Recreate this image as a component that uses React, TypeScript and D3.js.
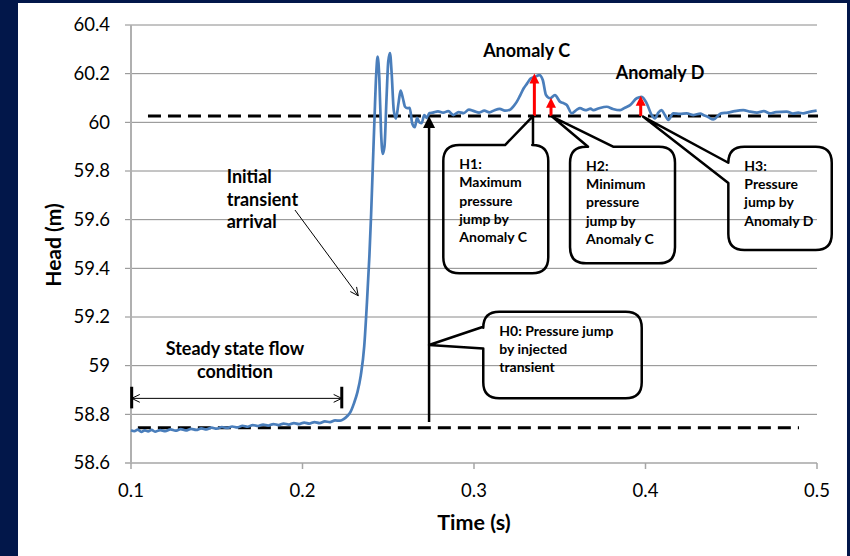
import * as d3 from 'd3';

// measured head trace (time in s, head in m)
const times = [
  0.100, 0.102, 0.104, 0.106, 0.108, 0.110, 0.112, 0.114, 0.117, 0.120,
  0.123, 0.126, 0.129, 0.132, 0.135, 0.138, 0.141, 0.144, 0.147, 0.150,
  0.153, 0.156, 0.159, 0.162, 0.165, 0.168, 0.171, 0.174, 0.177, 0.180,
  0.183, 0.186, 0.189, 0.192, 0.195, 0.198, 0.201, 0.204, 0.207, 0.210,
  0.213, 0.216, 0.219, 0.222, 0.224, 0.226, 0.228, 0.230, 0.232, 0.234,
  0.236, 0.2375, 0.239, 0.240, 0.241, 0.242, 0.243, 0.2438, 0.2448, 0.2458,
  0.2468, 0.2478, 0.2490, 0.2500, 0.2510, 0.2520, 0.2532, 0.2545, 0.2560, 0.2572,
  0.2585, 0.2598, 0.2612, 0.2625, 0.2640, 0.2655, 0.2668, 0.2682, 0.2695, 0.2710,
  0.2725, 0.2740, 0.276, 0.279, 0.282, 0.285, 0.288, 0.291, 0.294, 0.297,
  0.300, 0.303, 0.306, 0.309, 0.312, 0.315, 0.318, 0.321, 0.323, 0.325,
  0.327, 0.329, 0.331, 0.333, 0.3356, 0.3381, 0.3401, 0.3420, 0.3443, 0.3472,
  0.3501, 0.3525, 0.3541, 0.3570, 0.360, 0.3618, 0.365, 0.368, 0.3696, 0.373,
  0.3774, 0.381, 0.3852, 0.388, 0.3910, 0.3949, 0.3978, 0.4007, 0.4036, 0.4055,
  0.4075, 0.4094, 0.4113, 0.4133, 0.4162, 0.420, 0.424, 0.428, 0.432, 0.4337,
  0.4365, 0.4395, 0.4441, 0.448, 0.452, 0.457, 0.461, 0.465, 0.469, 0.4726,
  0.476, 0.4823, 0.486, 0.489, 0.4920, 0.495, 0.4998,
];
const heads = [
  58.735, 58.731, 58.737, 58.728, 58.734, 58.730, 58.736, 58.729, 58.735, 58.731,
  58.738, 58.733, 58.739, 58.734, 58.740, 58.736, 58.742, 58.738, 58.745, 58.741,
  58.748, 58.744, 58.750, 58.746, 58.753, 58.749, 58.756, 58.752, 58.758, 58.754,
  58.760, 58.756, 58.762, 58.758, 58.764, 58.760, 58.766, 58.762, 58.768, 58.764,
  58.771, 58.768, 58.775, 58.774, 58.780, 58.792, 58.810, 58.845, 58.890, 58.960,
  59.080, 59.250, 59.450, 59.620, 59.820, 60.020, 60.200, 60.270, 60.180, 59.960,
  59.870, 59.900, 60.100, 60.250, 60.285, 60.200, 60.050, 60.015, 60.080, 60.130,
  60.100, 60.064, 60.058, 60.060, 59.995, 59.980, 60.018, 60.000, 59.997, 60.030,
  60.018, 60.038, 60.040, 60.045, 60.040, 60.046, 60.030, 60.042, 60.038, 60.052,
  60.046, 60.040, 60.048, 60.041, 60.050, 60.055, 60.048, 60.052, 60.066, 60.085,
  60.112, 60.140, 60.160, 60.180, 60.187, 60.194, 60.174, 60.112, 60.099, 60.112,
  60.085, 60.078, 60.071, 60.037, 60.052, 60.058, 60.050, 60.056, 60.050, 60.058,
  60.064, 60.055, 60.050, 60.060, 60.071, 60.099, 60.105, 60.078, 60.030, 60.016,
  60.040, 60.050, 60.030, 60.010, 60.037, 60.035, 60.037, 60.030, 60.036, 60.030,
  60.022, 60.012, 60.037, 60.040, 60.046, 60.050, 60.044, 60.040, 60.046, 60.037,
  60.042, 60.044, 60.036, 60.040, 60.037, 60.042, 60.048,
];

const xTicks = [0.1, 0.2, 0.3, 0.4, 0.5];
const yTicks = [58.6, 58.8, 59, 59.2, 59.4, 59.6, 59.8, 60, 60.2, 60.4];

// reference levels
const steadyHead = 58.745;
const settledHead = 60.026;

// pressure jump arrows (time, top of arrow)
const jumpTimes = [0.3352, 0.3449, 0.3972];
const jumpTops = [60.201, 60.101, 60.109];

const injectTime = 0.2738;
const injectBase = 58.769;

type Callout = {
  lines: string[];
  t0: number; t1: number; h0: number; h1: number;
  side: 'top' | 'left';
  a: number; b: number;
  tip: [number, number];
};

const callouts: Callout[] = [
  { lines: ['H0: Pressure jump', 'by injected', 'transient'],
    t0: 0.3054, t1: 0.3978, h0: 59.2215, h1: 58.8656, side: 'left', a: 59.16, b: 59.071, tip: [0.2738, 59.0847] },
  { lines: ['H1:', 'Maximum', 'pressure', 'jump by', 'Anomaly C'],
    t0: 0.2821, t1: 0.3433, h0: 59.9067, h1: 59.3794, side: 'top', a: 0.3181, b: 0.3344, tip: [0.3344, 60.0259] },
  { lines: ['H2:', 'Minimum', 'pressure', 'jump by', 'Anomaly C'],
    t0: 0.356, t1: 0.4172, h0: 59.8997, h1: 59.4205, side: 'top', a: 0.3665, b: 0.3811, tip: [0.3455, 60.0238] },
  { lines: ['H3:', 'Pressure', 'jump by', 'Anomaly D'],
    t0: 0.4483, t1: 0.5086, h0: 59.8997, h1: 59.4751, side: 'left', a: 59.834, b: 59.7505, tip: [0.3985, 60.0238] },
];

const W = 850;
const H = 556;
const font = 'Lato, "Open Sans", sans-serif';

export default function App() {
  const x = d3.scaleLinear().domain([0.1, 0.5]).range([131, 817]);
  const y = d3.scaleLinear().domain([58.6, 60.4]).range([463, 25]);

  const series = times.map((t, i) => [t, heads[i]] as [number, number]);
  const line = d3.line<[number, number]>()
    .x(d => x(d[0]))
    .y(d => y(d[1]))
    .curve(d3.curveMonotoneX);

  const r = 16;
  const calloutPath = (c: Callout) => {
    const x0 = x(c.t0), x1 = x(c.t1), y0 = y(c.h0), y1 = y(c.h1);
    const tx = x(c.tip[0]), ty = y(c.tip[1]);
    let p = `M${x0 + r},${y0}`;
    if (c.side === 'top') {
      p += `L${x(c.a)},${y0}L${tx},${ty}L${x(c.b)},${y0}`;
    }
    p += `L${x1 - r},${y0}Q${x1},${y0} ${x1},${y0 + r}`;
    p += `L${x1},${y1 - r}Q${x1},${y1} ${x1 - r},${y1}`;
    p += `L${x0 + r},${y1}Q${x0},${y1} ${x0},${y1 - r}`;
    if (c.side === 'left') {
      p += `L${x0},${y(c.b)}L${tx},${ty}L${x0},${y(c.a)}`;
    }
    p += `L${x0},${y0 + r}Q${x0},${y0} ${x0 + r},${y0}Z`;
    return p;
  };

  const openHead = (x1: number, y1: number, x2: number, y2: number, len = 9, spread = 0.45) => {
    const ang = Math.atan2(y2 - y1, x2 - x1);
    const ax = x2 - len * Math.cos(ang - spread), ay = y2 - len * Math.sin(ang - spread);
    const bx = x2 - len * Math.cos(ang + spread), by = y2 - len * Math.sin(ang + spread);
    return `M${ax},${ay}L${x2},${y2}L${bx},${by}`;
  };

  const spanY = y(58.8656);
  const spanA = x(0.1004), spanB = x(0.2229);
  const trA: [number, number] = [x(0.1956), y(59.6397)];
  const trB: [number, number] = [x(0.2325), y(59.2873)];

  return (
    <svg width={W} height={H} style={{ position: 'absolute', left: 0, top: 0 }} fontFamily={font}>
      <rect x={0} y={0} width={W} height={H} fill="#02174a" />
      <rect x={18} y={3} width={829} height={H - 3} fill="#ffffff" />

      {/* gridlines */}
      {yTicks.slice(1).map(v => (
        <line key={v} x1={125} x2={817} y1={y(v)} y2={y(v)} stroke="#8a8a8a" strokeWidth={1} />
      ))}
      {/* axes */}
      <line x1={125} x2={817} y1={y(58.6)} y2={y(58.6)} stroke="#a6a6a6" strokeWidth={1.5} />
      <line x1={131} x2={131} y1={y(60.4)} y2={y(58.6)} stroke="#b0b0b0" strokeWidth={2} />
      {xTicks.map(t => (
        <line key={t} x1={x(t)} x2={x(t)} y1={y(58.6)} y2={y(58.6) + 6} stroke="#a6a6a6" strokeWidth={1.5} />
      ))}
      {yTicks.map(v => (
        <text key={v} x={110} y={y(v)} dy="0.35em" textAnchor="end" fontSize={18.5} fill="#000">
          {d3.format('')(+v.toFixed(1))}
        </text>
      ))}
      {xTicks.map(t => (
        <text key={t} x={x(t)} y={497} textAnchor="middle" fontSize={18.5} fill="#000">{t}</text>
      ))}
      <text x={474} y={530} textAnchor="middle" fontSize={21.5} fontWeight="bold">Time (s)</text>
      <text transform="translate(61,245) rotate(-90)" textAnchor="middle" fontSize={21} fontWeight="bold">Head (m)</text>

      {/* reference dashed levels */}
      <line x1={x(0.1099)} x2={x(0.5006)} y1={y(settledHead)} y2={y(settledHead)} stroke="#000" strokeWidth={3} strokeDasharray="13,7" />
      <line x1={x(0.104)} x2={x(0.4895)} y1={y(steadyHead)} y2={y(steadyHead)} stroke="#000" strokeWidth={3} strokeDasharray="13,7" />

      {/* head trace */}
      <path d={line(series) ?? ''} fill="none" stroke="#4a7ebb" strokeWidth={2.7} strokeLinejoin="round" />

      {/* pressure jump arrows */}
      {jumpTimes.map((t, i) => {
        const cx = x(t), top = y(jumpTops[i]), base = y(settledHead);
        return (
          <g key={t}>
            <line x1={cx} x2={cx} y1={base} y2={top + 9} stroke="#ff0000" strokeWidth={3} />
            <path d={`M${cx},${top}L${cx - 5},${top + 10}L${cx + 5},${top + 10}Z`} fill="#ff0000" />
          </g>
        );
      })}

      {/* injected transient arrow */}
      <line x1={x(injectTime)} x2={x(injectTime)} y1={y(injectBase)} y2={y(settledHead) + 10} stroke="#000" strokeWidth={2.5} />
      <path d={`M${x(injectTime)},${y(settledHead)}L${x(injectTime) - 6},${y(settledHead) + 12}L${x(injectTime) + 6},${y(settledHead) + 12}Z`} fill="#000" />

      {/* callouts */}
      {callouts.map((c, i) => (
        <g key={i}>
          <path d={calloutPath(c)} fill="none" stroke="#000" strokeWidth={2.5} strokeLinejoin="round" />
          <text x={x(c.t0) + 16} y={y(c.h0) + 24} fontSize={14} fontWeight="bold" fill="#000">
            {c.lines.map((s, j) => (
              <tspan key={j} x={x(c.t0) + 16} dy={j === 0 ? 0 : 18.3}>{s}</tspan>
            ))}
          </text>
        </g>
      ))}

      {/* anomaly labels */}
      <text x={x(0.3307)} y={y(60.2699)} textAnchor="middle" fontSize={18} fontWeight="bold">Anomaly C</text>
      <text x={x(0.4085)} y={y(60.1767)} textAnchor="middle" fontSize={18} fontWeight="bold">Anomaly D</text>

      {/* initial transient */}
      <text x={x(0.1558)} y={y(59.749)} fontSize={18} fontWeight="bold">
        <tspan x={x(0.1558)} dy={0}>Initial</tspan>
        <tspan x={x(0.1558)} dy={22.5}>transient</tspan>
        <tspan x={x(0.1558)} dy={22.5}>arrival</tspan>
      </text>
      <line x1={trA[0]} y1={trA[1]} x2={trB[0]} y2={trB[1]} stroke="#000" strokeWidth={1} />
      <path d={openHead(trA[0], trA[1], trB[0], trB[1])} fill="none" stroke="#000" strokeWidth={1} />

      {/* steady state span */}
      <text x={x(0.1606)} y={y(59.0436)} textAnchor="middle" fontSize={18} fontWeight="bold">Steady state flow</text>
      <text x={x(0.1606)} y={y(58.9478)} textAnchor="middle" fontSize={18} fontWeight="bold">condition</text>
      <line x1={spanA} x2={spanB} y1={spanY} y2={spanY} stroke="#000" strokeWidth={1} />
      <path d={openHead(spanB, spanY, spanA, spanY)} fill="none" stroke="#000" strokeWidth={1} />
      <path d={openHead(spanA, spanY, spanB, spanY)} fill="none" stroke="#000" strokeWidth={1} />
      <line x1={spanA} x2={spanA} y1={y(58.9133)} y2={y(58.8245)} stroke="#000" strokeWidth={3} />
      <line x1={spanB} x2={spanB} y1={y(58.9133)} y2={y(58.8245)} stroke="#000" strokeWidth={3} />
    </svg>
  );
}
